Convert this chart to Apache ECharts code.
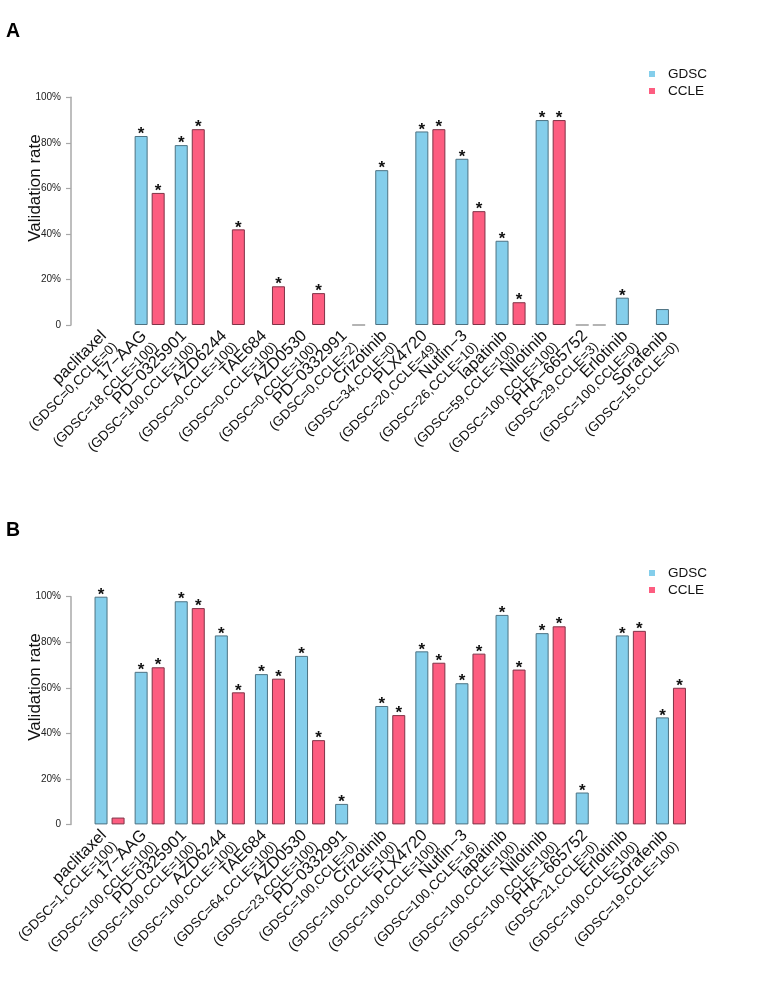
<!DOCTYPE html>
<html>
<head>
<meta charset="utf-8">
<script src="https://cdn.jsdelivr.net/npm/echarts@6/dist/echarts.min.js"></script>
<style>
html,body{margin:0;padding:0;background:#fff;}
#chart{width:762px;height:1007px;}
</style>
</head>
<body>
<div id="chart"></div>
<script>
// ---- data ----
var drugs = ['paclitaxel','17\u2212AAG','PD\u22120325901','AZD6244','TAE684','AZD0530','PD\u22120332991','Crizotinib','PLX4720','Nutlin\u22123','lapatinib','Nilotinib','PHA\u2212665752','Erlotinib','Sorafenib'];
var yTicks = [0,20,40,60,80,100];

// Panel A
var gdscCountA = [0,18,100,0,0,0,0,34,20,26,59,100,29,100,15];
var ccleCountA = [0,100,100,100,100,100,2,0,49,10,100,100,3,0,0];
var gdscRateA = [null,83,79,null,null,null,null,68,85,73,37,90,0,12,7];
var ccleRateA = [null,58,86,42,17,14,0,null,86,50,10,90,0,null,null];
var gdscSigA = [0,1,1,0,0,0,0,1,1,1,1,1,0,1,0];
var ccleSigA = [0,1,1,1,1,1,0,0,1,1,1,1,0,0,0];

// Panel B
var gdscCountB = [1,100,100,100,64,23,100,100,100,100,100,100,21,100,19];
var ccleCountB = [100,100,100,100,100,100,0,100,100,16,100,100,0,100,100];
var gdscRateB = [100,67,98,83,66,74,9,52,76,62,92,84,14,83,47];
var ccleRateB = [3,69,95,58,64,37,null,48,71,75,68,87,null,85,60];
var gdscSigB = [1,1,1,1,1,1,1,1,1,1,1,1,1,1,1];
var ccleSigB = [0,1,1,1,1,1,0,1,1,1,1,1,0,1,1];

// ---- styles ----
var FONT = '"Liberation Sans", Arial, Helvetica, sans-serif';
var BLUE = '#84CEEB', BLUE_B = '#4D7282';
var PINK = '#FD5D80', PINK_B = '#7E3447';
var AXIS_C = '#A8A8A8';

function buildData(vals) {
  return vals.map(function (v) {
    if (v === null) return { value: null };
    if (v === 0) return { value: 0, itemStyle: { borderColor: '#B4B4B4', borderWidth: 2 } };
    return { value: v };
  });
}

function xAxisFor(gi, gc, cc) {
  return {
    type: 'category', gridIndex: gi, data: drugs,
    axisLine: { show: false }, axisTick: { show: false },
    axisLabel: {
      interval: 0, rotate: 45, margin: 14, color: '#111', fontFamily: FONT,
      formatter: function (v, i) {
        return '{n|' + v + '}\n{s|(GDSC=' + gc[i] + ',CCLE=' + cc[i] + ')}';
      },
      rich: {
        n: { fontSize: 16.5, lineHeight: 16, fontFamily: FONT, color: '#111', align: 'right' },
        s: { fontSize: 13.5, lineHeight: 16, fontFamily: FONT, color: '#111', align: 'right' }
      }
    }
  };
}

function yAxisFor(gi) {
  return {
    type: 'value', gridIndex: gi, min: 0, max: 100, interval: 20, offset: 18.5,
    axisLine: { show: true, lineStyle: { color: AXIS_C, width: 1.5 } },
    axisTick: { show: true, length: 5, lineStyle: { color: AXIS_C, width: 1.2 } },
    splitLine: { show: false },
    axisLabel: {
      margin: 10, fontSize: 10, color: '#222', fontFamily: FONT,
      formatter: function (v) { return v === 0 ? '0' : v + '%'; }
    }
  };
}

function barSeries(name, gi, vals, sig, fill, border) {
  return {
    name: name, type: 'bar', xAxisIndex: gi, yAxisIndex: gi,
    data: buildData(vals),
    barWidth: 13, barGap: '31%',
    itemStyle: { color: fill, borderColor: border, borderWidth: 1 },
    label: {
      show: true, position: 'top', distance: -7,
      fontSize: 17, fontWeight: 'bold', color: '#111', fontFamily: FONT,
      formatter: function (p) { return sig[p.dataIndex] ? '*' : ''; }
    },
    emphasis: { disabled: true },
    animation: false
  };
}

function legendFor(top) {
  return {
    data: ['GDSC', 'CCLE'], orient: 'vertical', left: 644, top: top,
    icon: 'rect', itemWidth: 6, itemHeight: 6, itemGap: 3,
    itemStyle: { borderWidth: 0 },
    textStyle: { fontSize: 13.5, lineHeight: 14, color: '#111', fontFamily: FONT, padding: [0, 0, 0, 8] }
  };
}

var chart = echarts.init(document.getElementById('chart'), null, { renderer: 'canvas' });
chart.setOption({
  backgroundColor: '#fff',
  animation: false,
  color: [BLUE, PINK],
  title: [
    { text: 'A', left: 1, top: 17, textStyle: { fontSize: 19.5, fontWeight: 'bold', color: '#000', fontFamily: FONT } },
    { text: 'B', left: 1, top: 516, textStyle: { fontSize: 19.5, fontWeight: 'bold', color: '#000', fontFamily: FONT } }
  ],
  legend: [legendFor(62), legendFor(561)],
  grid: [
    { left: 89.5, width: 601.5, top: 97.3, height: 227.7 },
    { left: 89.5, width: 601.5, top: 596.7, height: 227.7 }
  ],
  xAxis: [xAxisFor(0, gdscCountA, ccleCountA), xAxisFor(1, gdscCountB, ccleCountB)],
  yAxis: [yAxisFor(0), yAxisFor(1)],
  series: [
    barSeries('GDSC', 0, gdscRateA, gdscSigA, BLUE, BLUE_B),
    barSeries('CCLE', 0, ccleRateA, ccleSigA, PINK, PINK_B),
    barSeries('GDSC', 1, gdscRateB, gdscSigB, BLUE, BLUE_B),
    barSeries('CCLE', 1, ccleRateB, ccleSigB, PINK, PINK_B)
  ],
  graphic: [
    { type: 'text', x: 35, y: 188, rotation: Math.PI / 2,
      style: { text: 'Validation rate', fontSize: 17, fontFamily: FONT, fill: '#111',
               align: 'center', verticalAlign: 'middle', textAlign: 'center', textVerticalAlign: 'middle' } },
    { type: 'text', x: 35, y: 687, rotation: Math.PI / 2,
      style: { text: 'Validation rate', fontSize: 17, fontFamily: FONT, fill: '#111',
               align: 'center', verticalAlign: 'middle', textAlign: 'center', textVerticalAlign: 'middle' } }
  ]
});
</script>
</body>
</html>
